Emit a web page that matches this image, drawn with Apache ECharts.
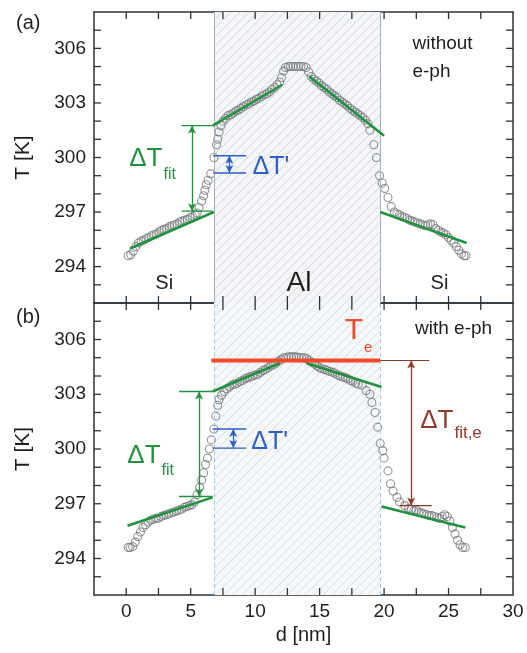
<!DOCTYPE html>
<html>
<head>
<meta charset="utf-8">
<script src="https://cdn.jsdelivr.net/npm/echarts@6/dist/echarts.min.js"></script>
<style>
  html, body { margin: 0; padding: 0; background: #ffffff; }
  #chart { width: 527px; height: 653px; }
</style>
</head>
<body>
<div id="chart"></div>
<script>
// Temperature profile T(d) across the Si / Al / Si stack
// (a) without electron-phonon coupling, (b) with electron-phonon coupling

const profileA = [
  [0.15,294.6],[0.35,294.65],[0.55,294.85],[0.75,295.1],[0.95,295.3],[1.15,295.4],[1.35,295.45],
  [1.55,295.55],[1.75,295.6],[1.95,295.7],[2.15,295.75],[2.35,295.8],[2.55,295.9],[2.75,296.0],
  [2.95,296.05],[3.15,296.1],[3.35,296.2],[3.55,296.25],[3.75,296.3],[3.95,296.35],[4.15,296.45],
  [4.35,296.5],[4.55,296.55],[4.75,296.6],[4.95,296.7],[5.15,296.75],[5.35,296.85],[5.5,296.95],
  [5.65,297.25],[5.85,297.6],[6.0,297.9],[6.1,298.2],[6.2,298.5],[6.35,298.75],[6.55,299.1],
  [6.8,300.0],[7.0,300.7],[7.1,301.0],[7.2,301.4],[7.35,301.75],
  [7.5,302.0],[7.7,302.15],[7.9,302.3],[8.1,302.35],[8.3,302.45],[8.5,302.55],[8.7,302.6],
  [8.9,302.7],[9.1,302.8],[9.3,302.9],[9.5,302.95],[9.7,303.05],[9.9,303.1],[10.1,303.2],
  [10.3,303.25],[10.5,303.35],[10.7,303.45],[10.9,303.5],[11.1,303.6],[11.3,303.75],[11.5,303.85],
  [11.7,304.0],[11.9,304.15],[12.05,304.4],[12.2,304.75],[12.35,304.95],[12.55,305.0],[12.75,305.0],
  [12.95,305.0],[13.15,305.0],[13.35,305.0],[13.55,305.0],[13.75,305.0],[13.95,304.95],[14.15,304.7],
  [14.35,304.45],[14.55,304.3],[14.75,304.2],[14.95,304.1],[15.15,303.95],[15.35,303.85],[15.55,303.75],
  [15.75,303.6],[15.95,303.5],[16.15,303.4],[16.35,303.3],[16.55,303.15],[16.75,303.05],[16.95,302.95],
  [17.15,302.85],[17.35,302.7],[17.55,302.6],[17.75,302.5],[17.95,302.4],[18.15,302.3],[18.35,302.2],
  [18.55,302.05],[18.75,301.85],[18.9,301.5],[19.2,300.7],[19.4,300.0],[19.65,299.0],[19.85,298.6],
  [20.05,298.3],[20.3,297.8],[20.55,297.3],
  [20.8,297.0],[21.0,296.9],[21.2,296.85],[21.4,296.75],[21.6,296.7],[21.8,296.65],[22.0,296.55],
  [22.2,296.5],[22.4,296.45],[22.6,296.4],[22.8,296.35],[23.0,296.3],[23.2,296.25],[23.4,296.3],
  [23.6,296.35],[23.8,296.3],[24.0,296.1],[24.2,296.0],[24.4,295.9],[24.6,295.85],[24.8,295.75],
  [25.0,295.6],[25.2,295.45],[25.4,295.3],[25.6,295.1],[25.8,294.9],[26.0,294.7],[26.2,294.6],[26.35,294.6]
];

const profileB = [
  [0.15,294.6],[0.3,294.6],[0.5,294.65],[0.7,294.9],[0.9,295.2],[1.1,295.45],[1.3,295.7],
  [1.5,295.85],[1.7,296.0],[1.9,296.1],[2.1,296.15],[2.3,296.2],[2.5,296.2],[2.7,296.3],
  [2.9,296.35],[3.1,296.4],[3.3,296.45],[3.5,296.5],[3.7,296.55],[3.9,296.6],[4.1,296.65],
  [4.3,296.7],[4.5,296.8],[4.7,296.85],[4.9,296.9],[5.1,296.95],[5.3,297.1],[5.5,297.5],
  [5.7,297.9],[5.85,298.3],[6.0,298.7],[6.15,299.15],[6.3,299.5],[6.45,300.0],[6.6,300.5],
  [6.8,301.1],[6.95,301.8],[7.1,302.4],[7.2,302.7],[7.4,302.95],
  [7.6,303.15],[7.8,303.3],[8.0,303.4],[8.2,303.5],[8.4,303.55],[8.6,303.6],[8.8,303.7],
  [9.0,303.75],[9.2,303.85],[9.4,303.9],[9.6,303.95],[9.8,304.0],[10.0,304.05],[10.2,304.1],
  [10.4,304.2],[10.6,304.3],[10.8,304.35],[11.0,304.45],[11.2,304.55],[11.4,304.6],[11.6,304.7],
  [11.8,304.8],[12.0,304.9],[12.2,305.0],[12.4,305.0],[12.6,305.05],[12.8,305.05],[13.0,305.05],
  [13.2,305.05],[13.4,305.0],[13.6,305.0],[13.8,305.0],[14.0,304.95],
  [14.2,304.85],[14.4,304.75],[14.6,304.65],[14.8,304.55],[15.0,304.45],[15.2,304.4],[15.4,304.35],
  [15.6,304.3],[15.8,304.25],[16.0,304.2],[16.2,304.15],[16.4,304.05],[16.6,304.0],[16.8,303.95],
  [17.0,303.9],[17.2,303.85],[17.4,303.75],[17.6,303.7],[17.8,303.6],[18.0,303.55],[18.3,303.5],
  [18.6,303.2],[18.9,303.0],[19.05,302.55],[19.3,302.0],[19.5,301.2],[19.7,300.3],[19.9,299.9],
  [20.0,299.5],[20.3,298.8],[20.5,298.1],[20.7,297.7],[21.0,297.35],[21.2,297.1],[21.6,296.9],
  [21.9,296.75],[22.1,296.7],[22.3,296.6],[22.5,296.65],[22.7,296.55],[22.9,296.5],[23.1,296.45],
  [23.3,296.4],[23.5,296.35],[23.7,296.35],[23.9,296.3],[24.1,296.25],[24.3,296.2],[24.5,296.3],
  [24.7,296.4],[24.9,296.3],[25.1,296.05],[25.3,295.7],[25.5,295.35],[25.7,295.0],[25.9,294.75],
  [26.1,294.6],[26.3,294.6]
];

// Linear fits in each layer: [start, end]
const fitA = [
  [[0.3, 295.0], [6.8, 297.0]],
  [[6.7, 301.75], [12.1, 304.0]],
  [[14.2, 304.46], [20.0, 301.2]],
  [[19.7, 297.0], [26.4, 295.3]]
];
const fitB = [
  [[0.1, 295.8], [6.7, 297.35]],
  [[6.7, 303.15], [11.9, 304.7]],
  [[14.0, 304.7], [19.8, 303.4]],
  [[19.8, 296.85], [26.3, 295.7]]
];

// Al layer extent [nm]
const alLayer = [6.8, 19.7];

// Temperature jumps at the Si/Al interface
const jumpFitA   = { x: 5.1,  lo: 297.05, hi: 301.75, from: 4.3, to: 6.7 };
const jumpPrimeA = { x: 8.0,  lo: 299.15, hi: 300.1,  from: 6.75, to: 9.3 };
const jumpFitB   = { x: 5.65, lo: 297.4,  hi: 303.15, from: 4.1, to: 6.7 };
const jumpPrimeB = { x: 8.3,  lo: 300.05, hi: 301.1,  from: 6.7, to: 9.3 };
// Electron temperature and its drop to the Si fit
const electronT  = { y: 304.85, from: 6.6, to: 19.7 };
const jumpFitE   = { x: 22.1, lo: 296.9, hi: 304.85, topTo: 23.5, lowFrom: 21.2, lowTo: 23.7 };

// Axis ticks and labelled values
const xRange = [-2.5, 30];
const yRange = [292, 308];
const xTicks = [0, 2.5, 5, 7.5, 10, 12.5, 15, 17.5, 20, 22.5, 25, 27.5];
const xTickLabels = [0, 5, 10, 15, 20, 25, 30];
const yTicks = [293, 294, 295, 296, 297, 298, 299, 300, 301, 302, 303, 304, 305, 306, 307];
const yTickLabels = [294, 297, 300, 303, 306];

const FONT = '"Liberation Sans", Arial, Helvetica, sans-serif';
const AXIS = '#2b3338';
const GREEN = '#23913f';
const BLUE = '#2d5fc4';
const RED = '#ef4b2b';
const DARKRED = '#8e3b2c';
const TICK_LEN = 7;

function hatch(bg, line) {
  const c = document.createElement('canvas');
  const s = 9;
  c.width = s; c.height = s;
  const g = c.getContext('2d');
  g.fillStyle = bg; g.fillRect(0, 0, s, s);
  g.strokeStyle = line; g.lineWidth = 1;
  g.beginPath();
  g.moveTo(0, s); g.lineTo(s, 0);
  g.moveTo(-1, 1); g.lineTo(1, -1);
  g.moveTo(s - 1, s + 1); g.lineTo(s + 1, s - 1);
  g.stroke();
  return c;
}

const chart = echarts.init(document.getElementById('chart'));

const grids = [
  { left: 94, right: 14, top: 12, height: 291 },
  { left: 94, right: 14, top: 303, height: 292 }
];

function xAxisDef(gridIndex, position, labels) {
  return {
    type: 'value', gridIndex, position, min: xRange[0], max: xRange[1], interval: 2.5,
    axisLine: { show: true, onZero: false, lineStyle: { color: AXIS, width: 1.5 } },
    axisTick: { show: false },
    splitLine: { show: false },
    axisLabel: {
      show: labels, margin: 7, color: '#1e1e1e', fontSize: 19, fontFamily: FONT,
      customValues: xTickLabels
    },
    name: labels ? 'd [nm]' : '', nameLocation: 'middle', nameGap: 30,
    nameTextStyle: { color: '#1e1e1e', fontSize: 20, fontFamily: FONT }
  };
}
function yAxisDef(gridIndex, position, labels) {
  return {
    type: 'value', gridIndex, position, min: yRange[0], max: yRange[1], interval: 1,
    axisLine: { show: true, onZero: false, lineStyle: { color: AXIS, width: 1.5 } },
    axisTick: { show: false },
    splitLine: { show: false },
    axisLabel: {
      show: labels, margin: 8, color: '#1e1e1e', fontSize: 19, fontFamily: FONT,
      customValues: yTickLabels
    },
    name: labels ? 'T [K]' : '', nameLocation: 'middle', nameGap: 60, nameRotate: 90,
    nameTextStyle: { color: '#1e1e1e', fontSize: 21, fontFamily: FONT }
  };
}

const series = [];

function panel(gi, profile, fits, bg, hatchLine, boundary) {
  const xi = gi * 2, yi = gi * 2;
  series.push({
    type: 'scatter', xAxisIndex: xi, yAxisIndex: yi, z: 3,
    data: profile, symbol: 'circle', symbolSize: 8,
    itemStyle: { color: 'rgba(255,255,255,0)', borderColor: '#74787c', borderWidth: 1.1 },
    silent: true,
    markArea: {
      silent: true, z: 1,
      itemStyle: { color: { image: hatch(bg, hatchLine), repeat: 'repeat' } },
      data: [[{ xAxis: alLayer[0] }, { xAxis: alLayer[1] }]]
    },
    markLine: {
      silent: true, symbol: 'none', label: { show: false },
      lineStyle: boundary,
      data: alLayer.map(v => ({ xAxis: v }))
    }
  });
  fits.forEach(seg => series.push({
    type: 'line', xAxisIndex: xi, yAxisIndex: yi, z: 5, data: seg,
    showSymbol: false, silent: true, lineStyle: { color: GREEN, width: 2.6 }
  }));
}

function hline(gi, y, x0, x1, color, width) {
  series.push({
    type: 'line', xAxisIndex: gi * 2, yAxisIndex: gi * 2, z: 6,
    data: [[x0, y], [x1, y]], showSymbol: false, silent: true,
    lineStyle: { color, width }
  });
}
function arrow(gi, x, lo, hi, color, size) {
  series.push({
    type: 'line', xAxisIndex: gi * 2, yAxisIndex: gi * 2, z: 6, data: [], silent: true,
    markLine: {
      silent: true, symbol: ['arrow', 'arrow'], symbolSize: size, label: { show: false },
      lineStyle: { color, width: 1.3, type: 'solid' },
      emphasis: { disabled: true },
      data: [[{ coord: [x, lo] }, { coord: [x, hi] }]]
    }
  });
}
function jump(gi, j, color) {
  hline(gi, j.lo, j.from, j.to, color, 1.4);
  hline(gi, j.hi, j.from, j.to, color, 1.4);
  arrow(gi, j.x, j.lo, j.hi, color, [6, 8]);
}

panel(0, profileA, fitA, '#f4f5f7', '#d3d7dc', { color: '#a7b0b9', width: 1, type: 'solid' });
panel(1, profileB, fitB, '#f6f7f9', '#d5dde5', { color: '#a9c6de', width: 1, type: [4, 3] });

jump(0, jumpFitA, GREEN);
jump(0, jumpPrimeA, BLUE);
jump(1, jumpFitB, GREEN);
jump(1, jumpPrimeB, BLUE);

hline(1, electronT.y, electronT.from, electronT.to, RED, 4);
hline(1, jumpFitE.hi, electronT.to, jumpFitE.topTo, DARKRED, 1.2);
hline(1, jumpFitE.lo, jumpFitE.lowFrom, jumpFitE.lowTo, DARKRED, 1.2);
arrow(1, jumpFitE.x, jumpFitE.lo, jumpFitE.hi, DARKRED, [6, 8]);

chart.setOption({
  animation: false,
  backgroundColor: '#ffffff',
  grid: grids,
  xAxis: [
    xAxisDef(0, 'bottom', false), xAxisDef(0, 'top', false),
    xAxisDef(1, 'bottom', true), xAxisDef(1, 'top', false)
  ],
  yAxis: [
    yAxisDef(0, 'left', true), yAxisDef(0, 'right', false),
    yAxisDef(1, 'left', true), yAxisDef(1, 'right', false)
  ],
  series
});

// Text annotations placed in data coordinates
const notes = [
  { g: 0, t: 'ΔT', x: 0.23, y: 299.9, size: 26, color: GREEN, sub: 'fit', subSize: 16, subDy: 15 },
  { g: 0, t: "ΔT'", x: 9.8, y: 299.46, size: 25, color: BLUE },
  { g: 0, t: 'Si', x: 2.95, y: 293.1, size: 20, color: '#1e1e1e', align: 'center' },
  { g: 0, t: 'Al', x: 13.4, y: 293.1, size: 28, color: '#1e1e1e', align: 'center' },
  { g: 0, t: 'Si', x: 24.3, y: 293.1, size: 20, color: '#1e1e1e', align: 'center' },
  { g: 0, t: 'without', x: 22.2, y: 306.27, size: 19, color: '#1e1e1e' },
  { g: 0, t: 'e-ph', x: 22.2, y: 304.7, size: 19, color: '#1e1e1e' },
  { g: 1, t: 'ΔT', x: 0.08, y: 299.65, size: 26, color: GREEN, sub: 'fit', subSize: 16, subDy: 15 },
  { g: 1, t: "ΔT'", x: 9.7, y: 300.36, size: 25, color: BLUE },
  { g: 1, t: 'with e-ph', x: 22.4, y: 306.6, size: 19, color: '#1e1e1e' },
  { g: 1, t: 'T', x: 16.95, y: 306.5, size: 30, color: RED, sub: 'e', subSize: 15, subDy: 17 },
  { g: 1, t: 'ΔT', x: 22.8, y: 301.57, size: 26, color: DARKRED, sub: 'fit,e', subSize: 17, subDy: 13 }
];

const measure = document.createElement('canvas').getContext('2d');
function textWidth(s, size) {
  measure.font = size + 'px ' + FONT;
  return measure.measureText(s).width;
}
function toPx(g, x, y) {
  return chart.convertToPixel({ xAxisIndex: g * 2, yAxisIndex: g * 2 }, [x, y]);
}

const graphic = [];

// Inward tick marks on all four sides of both panels, placed through the axis scales
function tick(x1, y1, x2, y2) {
  graphic.push({
    type: 'line', z: 60, silent: true,
    shape: { x1, y1, x2, y2 },
    style: { stroke: AXIS, lineWidth: 1.3 }
  });
}
[0, 1].forEach(g => {
  xTicks.forEach(v => {
    const b = toPx(g, v, yRange[0]);
    const t = toPx(g, v, yRange[1]);
    tick(b[0], b[1], b[0], b[1] - TICK_LEN);
    tick(t[0], t[1], t[0], t[1] + TICK_LEN);
  });
  yTicks.forEach(v => {
    const l = toPx(g, xRange[0], v);
    const r = toPx(g, xRange[1], v);
    tick(l[0], l[1], l[0] + TICK_LEN, l[1]);
    tick(r[0], r[1], r[0] - TICK_LEN, r[1]);
  });
});

notes.forEach(n => {
  const p = toPx(n.g, n.x, n.y);
  graphic.push({
    type: 'text', x: p[0], y: p[1], z: 100, silent: true,
    style: {
      text: n.t, fill: n.color, font: n.size + 'px ' + FONT,
      textAlign: n.align || 'left', textVerticalAlign: 'middle'
    }
  });
  if (n.sub) {
    graphic.push({
      type: 'text', x: p[0] + textWidth(n.t, n.size) + 1, y: p[1] + n.subDy, z: 100, silent: true,
      style: {
        text: n.sub, fill: n.color, font: n.subSize + 'px ' + FONT,
        textAlign: 'left', textVerticalAlign: 'middle'
      }
    });
  }
});
graphic.push(
  { type: 'text', left: 16, top: 13, z: 100, silent: true,
    style: { text: '(a)', fill: '#1e1e1e', font: '20px ' + FONT } },
  { type: 'text', left: 16, top: 307, z: 100, silent: true,
    style: { text: '(b)', fill: '#1e1e1e', font: '20px ' + FONT } }
);

chart.setOption({ graphic });
</script>
</body>
</html>
